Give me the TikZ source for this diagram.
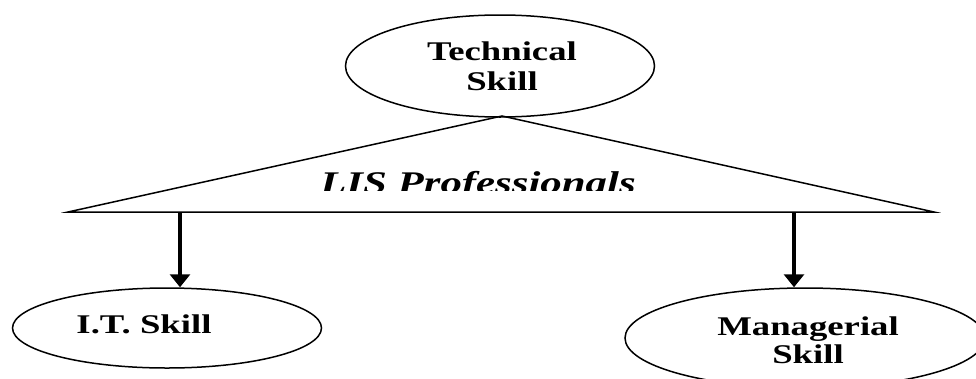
\documentclass[tikz,border=0pt]{standalone}
\usepackage{fontspec}
\usepackage{graphicx}
\setmainfont{Liberation Serif}
\usetikzlibrary{shapes.geometric,arrows.meta}
\tikzset{
  skillbox/.style={draw, ellipse, line width=1.5pt, inner sep=0pt},
  skilltext/.style={font=\bfseries\fontsize{27}{30}\selectfont, align=center, anchor=base, inner sep=0pt},
  downarrow/.style={line width=4pt, -{Triangle[width=20pt,length=13pt]}, shorten >=0pt},
  rooftri/.style={line width=1.5pt, line join=miter}
}
\newcommand{\widetxt}[1]{\scalebox{1.36}[1]{#1}}
\begin{document}
\begin{tikzpicture}[x=1pt,y=-1pt]
  \useasboundingbox (0,0) rectangle (976,378);
  % top ellipse
  \node[skillbox, minimum width=309pt, minimum height=102pt] (tech) at (500,66) {};
  \node[skilltext] (techT) at (502,90) {\widetxt{Technical}\\\widetxt{Skill}};
  % triangle
  \coordinate (tl) at (68,212);
  \coordinate (ta) at (502,116);
  \coordinate (tr) at (934,212);
  \draw[rooftri] (tl) -- (ta) -- (tr) -- cycle;
  \begin{scope}
    \clip (0,0) rectangle (976,190);
    \node[font=\bfseries\itshape\fontsize{31.5}{34}\selectfont, anchor=base, inner sep=0pt] (lis) at (478,193) {\widetxt{LIS Professionals}};
  \end{scope}
  % bottom ellipses
  \node[skillbox, minimum width=309pt, minimum height=80pt] (it) at (167,328) {};
  \node[skilltext] (itT) at (144,333) {\widetxt{I.T. Skill}};
  \node[skillbox, minimum width=360pt, minimum height=100pt] (man) at (805,338) {};
  \node[skilltext, font=\bfseries\fontsize{27}{28}\selectfont] (manT) at (808,363) {\widetxt{Managerial}\\\widetxt{Skill}};
  % arrows
  \coordinate (b1) at (180,212);
  \coordinate (b2) at (794,212);
  \draw[downarrow] (b1) -- (b1 |- it.north);
  \draw[downarrow] (b2) -- (b2 |- man.north);
\end{tikzpicture}
\end{document}
